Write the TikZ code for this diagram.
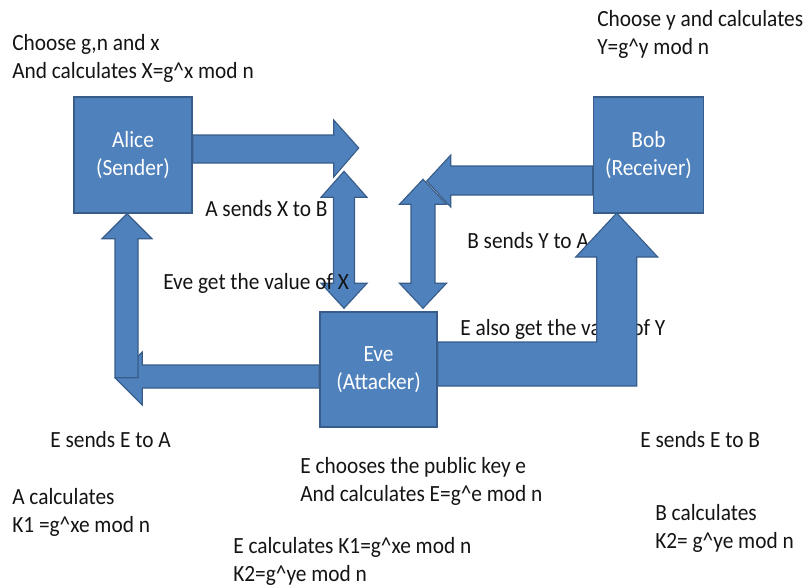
\documentclass[tikz,border=0pt]{standalone}
\usepackage{fontspec}
\setmainfont{Carlito}[FakeStretch=0.92]
\definecolor{blockfill}{HTML}{4F81BD}
\definecolor{blockline}{HTML}{385D8A}
\definecolor{ink}{HTML}{141414}
\tikzset{
  party/.style={draw=blockline,fill=blockfill,line width=1pt,text=white,align=center,
    minimum width=2.95cm,minimum height=2.9cm,font=\fontsize{16.5}{20}\selectfont},
  blk/.style={draw=blockline,fill=blockfill,line width=0.8pt,line join=miter},
  lbl/.style={anchor=west,inner sep=0pt,align=left,text=ink,font=\fontsize{16.5}{20}\selectfont}
}
\begin{document}
\begin{tikzpicture}[x=0.025cm,y=-0.025cm]
  \useasboundingbox (0,0) rectangle (810,587);
  \node[party] (alice) at (133,155) {Alice\\(Sender)};
  \node[party,minimum width=2.75cm] (bob) at (648.5,155) {Bob\\(Receiver)};
  \node[party,minimum width=2.925cm,minimum height=2.875cm] (eve) at (378.5,369.5) {Eve\\(Attacker)};

  % these two sit under the arrows
  \node[lbl] (bsy) at (467,241) {B sends Y to A};
  \node[lbl] (egy) at (460,329) {E also get the value of Y};

  % X on its way to Bob
  \draw[blk] (alice.east) ++(0,-20) -- ++(141,0) -- ++(0,-15) -- ++(25,28) -- ++(-25,29) -- ++(0,-14) -- ++(-141,0) -- cycle;
  % Y on its way to Alice
  \draw[blk] (bob.west) ++(0,11) -- ++(-142,0) -- ++(0,-11) -- ++(-24,26) -- ++(24,26) -- ++(0,-12) -- ++(142,0) -- cycle;

  % Eve listens on both lines
  \draw[blk] (eve.north) ++(-34.5,-3) -- ++(23,-25) -- ++(-12.5,0) -- ++(0,-86) -- ++(12.5,0) -- ++(-23,-26)
    -- ++(-23,26) -- ++(12.5,0) -- ++(0,86) -- ++(-12.5,0) -- cycle;
  \draw[blk] (eve.north) ++(44.5,-3) -- ++(23.5,-25) -- ++(-11.5,0) -- ++(0,-79) -- ++(11.5,0) -- ++(-23.5,-25)
    -- ++(-23.5,25) -- ++(11.5,0) -- ++(0,79) -- ++(-11.5,0) -- cycle;

  % E goes to Bob
  \draw[blk] (eve.east) ++(0,-27.5) -- ++(159,0) -- ++(0,-85) -- ++(-21,0) -- ++(41,-44) -- ++(41,44)
    -- ++(-21,0) -- ++(0,129) -- ++(-199,0) -- cycle;
  % E goes to Alice
  \draw[blk] (eve.west) ++(0,-4.5) -- ++(-177,0) -- ++(0,-13) -- ++(-27,26) -- ++(27,27) -- ++(0,-17) -- ++(177,0) -- cycle;
  \draw[blk] (alice.south) ++(-6,0) -- ++(25,25) -- ++(-14,0) -- ++(0,139) -- ++(-23,0) -- ++(0,-139) -- ++(-13,0) -- cycle;

  \node[lbl] (asx) at (205,209) {A sends X to B};
  \node[lbl] (egx) at (163,283) {Eve get the value of X};

  \node[lbl] (alicecalc) at (12,58) {Choose g,n and x\\And calculates X=g\textasciicircum x mod n};
  \node[lbl] (bobcalc) at (597,34.5) {Choose y and calculates\\Y=g\textasciicircum y mod n};
  \node[lbl] (esa) at (50,440) {E sends E to A};
  \node[lbl] (esb) at (640,440) {E sends E to B};
  \node[lbl] (acalc) at (12,512.5) {A calculates\\K1 =g\textasciicircum xe mod n};
  \node[lbl] (evekey) at (300,481.5) {E chooses the public key e\\And calculates E=g\textasciicircum e mod n};
  \node[lbl] (evecalc) at (233,561) {E calculates K1=g\textasciicircum xe mod n\\K2=g\textasciicircum ye mod n};
  \node[lbl] (bcalc) at (655,528) {B calculates\\K2= g\textasciicircum ye mod n};
\end{tikzpicture}
\end{document}
